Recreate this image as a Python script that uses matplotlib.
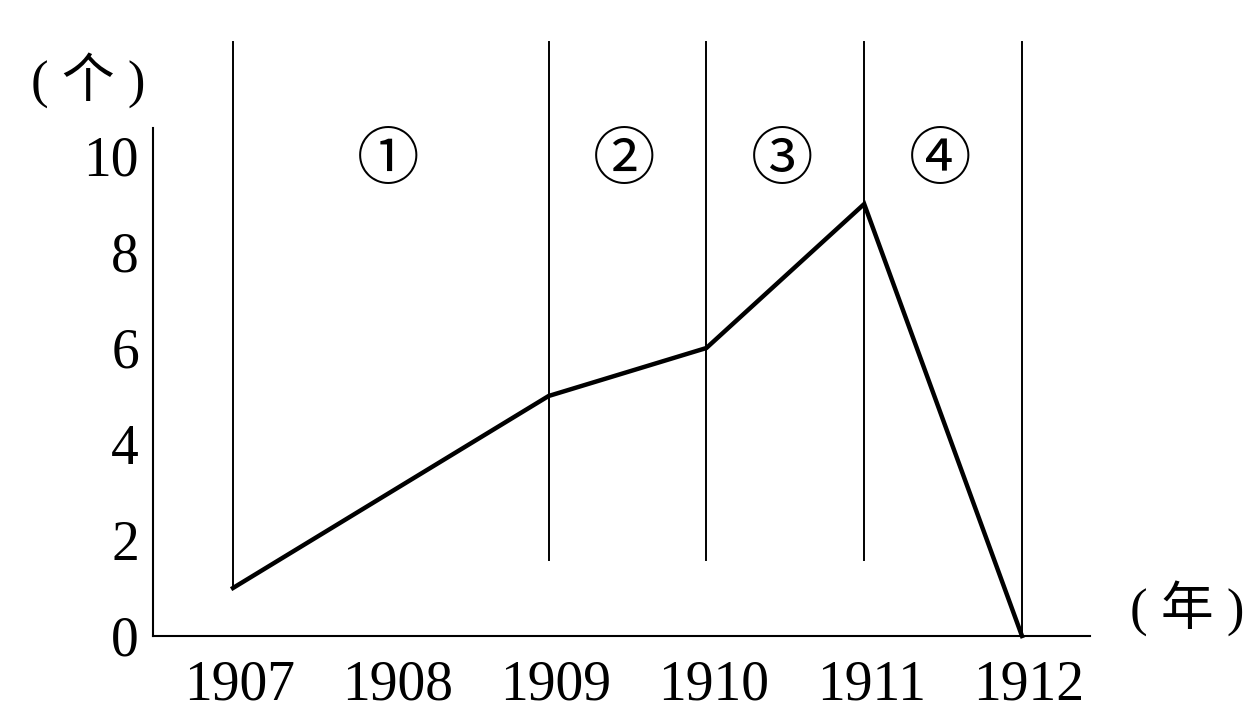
import matplotlib
matplotlib.use('Agg')
import matplotlib.pyplot as plt
import matplotlib.transforms as mtransforms

plt.rcParams['font.family'] = ['Liberation Serif', 'Noto Sans CJK SC', 'DejaVu Sans']

# data
years = [1907, 1909, 1910, 1911, 1912]
counts = [1, 5, 6, 9, 0]
year_ticks = [1907, 1908, 1909, 1910, 1911, 1912]
y_ticks = [0, 2, 4, 6, 8, 10]
stage_labels = ['①', '②', '③', '④']
stage_bounds = [1907, 1909, 1910, 1911, 1912]

fig = plt.figure(figsize=(12.59, 7.27), dpi=100)
ax = fig.add_axes([153 / 1259, 91 / 727, (1090 - 153) / 1259, (636 - 42) / 727])

ax.plot(years, counts, color='black', lw=3.2, solid_joinstyle='miter', clip_on=False, zorder=3)

# stage divider lines
ytop = (636 - 42) / 48
for i, yr in enumerate(stage_bounds):
    if i == 0:
        bottom = counts[0]
    elif i == len(stage_bounds) - 1:
        bottom = counts[-1]
    else:
        bottom = 1.58
    ax.plot([yr, yr], [bottom, ytop], color='black', lw=1.4, clip_on=False)

# stage numbers
for lab, a, b in zip(stage_labels, stage_bounds[:-1], stage_bounds[1:]):
    ax.text((a + b) / 2 - 0.02, 9.9, lab, ha='center', va='center', fontsize=45,
            family=['Noto Sans CJK SC', 'DejaVu Sans'])

ax.set_xlim(1907 - (233 - 153) / 157.8, 1912 + (1090 - 1022) / 157.8)
ax.set_ylim(0, ytop)

for s in ['top', 'right']:
    ax.spines[s].set_visible(False)
ax.spines['left'].set_bounds(0, (636 - 128) / 48)
ax.spines['left'].set_linewidth(1.5)
ax.spines['bottom'].set_linewidth(1.5)

ax.set_xticks(year_ticks)
ax.set_xticklabels([str(y) for y in year_ticks], fontsize=40)
ax.set_yticks(y_ticks)
ax.set_yticklabels([str(v) for v in y_ticks], fontsize=40)
ax.tick_params(length=0)
ax.tick_params(axis='y', pad=10)
ax.tick_params(axis='x', pad=17)
offset = mtransforms.ScaledTranslation(7 / 100, 0, fig.dpi_scale_trans)
for lbl in ax.get_xticklabels():
    lbl.set_transform(lbl.get_transform() + offset)

fig.text(88 / 1259, 1 - 80 / 727, '( 个 )', ha='center', va='center', fontsize=38)
fig.text(1187 / 1259, 1 - 608 / 727, '( 年 )', ha='center', va='center', fontsize=38)

fig.savefig('out.png', dpi=100)
